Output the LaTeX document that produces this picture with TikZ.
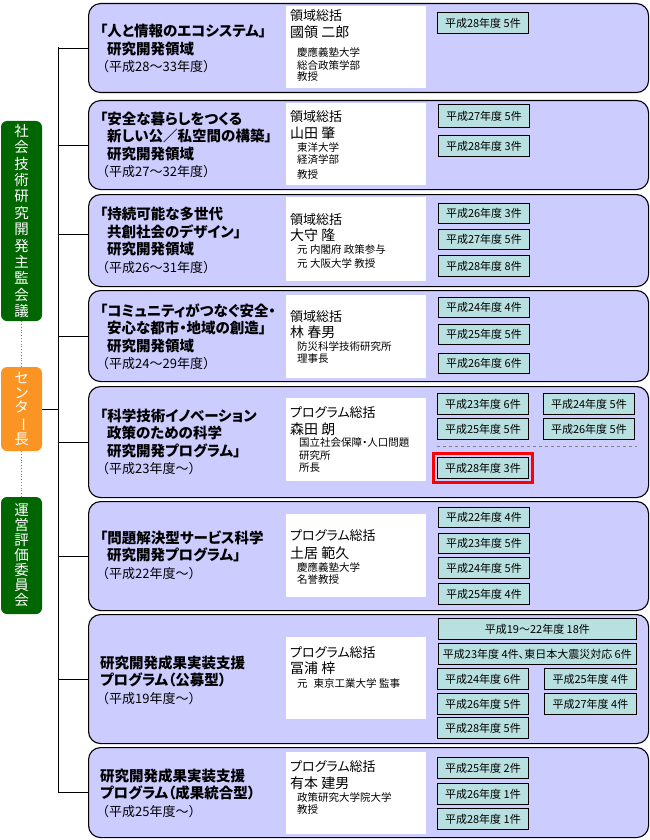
\documentclass[tikz,border=0pt]{standalone}
\usepackage{fontspec}
\setmainfont{Noto Sans CJK JP}[RawFeature=+palt]
\newfontfamily\jpfull{Noto Sans CJK JP}
\usepackage{graphicx}
\usetikzlibrary{fit}
\definecolor{lav}{RGB}{204,204,255}
\definecolor{tealbox}{RGB}{185,224,224}
\definecolor{dgreen}{RGB}{0,102,0}
\definecolor{orng}{RGB}{250,148,35}
\begin{document}
\begin{tikzpicture}[x=1pt,y=-1pt,
  mainbox/.style={draw=black, line width=1.1pt, fill=lav, rounded corners=12pt, minimum width=560pt, anchor=north west, inner sep=0pt},
  wbox/.style={fill=white, draw=none, minimum width=140pt, anchor=north west, inner sep=0pt},
  cnt/.style={draw=black, line width=0.8pt, fill=tealbox, inner sep=0pt, minimum width=91pt, minimum height=21pt, anchor=north west, font=\fontsize{11}{11}\selectfont},
  ttl/.style={anchor=west, align=left, inner sep=0pt, font=\fontsize{14.5}{17.5}\selectfont\bfseries},
  hd/.style={anchor=west, inner sep=0pt, font=\fontsize{13}{13}\selectfont},
  nm/.style={anchor=west, inner sep=0pt, font=\fontsize{14}{14}\selectfont},
  sm/.style={anchor=west, inner sep=0pt, font=\fontsize{10.5}{11}\selectfont},
  side/.style={rounded corners=6pt, minimum width=41pt, inner sep=0pt, text=white, align=center},
  conn/.style={draw=black, line width=0.9pt},
  dotl/.style={draw=gray, line width=0.8pt, dotted}
]
\useasboundingbox (0,0) rectangle (650,840);
\newcommand\yr[1]{{\hspace*{-4pt}\jpfull\fontsize{13}{17.5}\selectfont\mdseries #1}}
\newcommand\ind{\hspace*{7pt}}

% left column
\node[side, fill=dgreen, minimum height=200pt, font=\fontsize{14.5}{16.4}\selectfont] (g1) at (21.5,221)
  {社\\会\\技\\術\\研\\究\\開\\発\\主\\監\\会\\議};
\node[side, fill=orng, minimum height=84pt, font=\fontsize{14.5}{14.5}\selectfont] (ctr) at (21.5,409)
  {セ\\ン\\タ\\\rotatebox[origin=c]{-90}{ー}\\長};
\node[side, fill=dgreen, minimum height=117pt, font=\fontsize{14.5}{15}\selectfont] (g2) at (21.5,555.5)
  {運\\営\\評\\価\\委\\員\\会};
\draw[dotl] (g1.south) -- (ctr.north);
\draw[dotl] (ctr.south) -- (g2.north);

% main boxes
\node[mainbox, minimum height=89pt] (r1) at (88,3) {};
\node[mainbox, minimum height=89pt] (r2) at (88,100) {};
\node[mainbox, minimum height=92pt] (r3) at (88,194) {};
\node[mainbox, minimum height=91pt] (r4) at (88,290) {};
\node[mainbox, minimum height=111pt] (r5) at (88,386) {};
\node[mainbox, minimum height=109pt] (r6) at (88,501) {};
\node[mainbox, minimum height=129pt] (r7) at (88,614) {};
\node[mainbox, minimum height=90pt] (r8) at (88,747) {};

% trunk and connectors
\coordinate (ttop) at (58,47.5);
\coordinate (tbot) at (58,792);
\coordinate (r3in) at (88,234);
\draw[conn] (ttop) -- (tbot);
\foreach \r in {r1,r2,r4,r5,r6,r7,r8}
  \draw[conn] (\r.west -| ttop) -- (\r.west);
\draw[conn] (r3in -| ttop) -- (r3in);
\draw[conn] (ctr.east) -- (ctr.east -| ttop);

% titles
\node[ttl] (t1) at (100,48.5) {「人と情報のエコシステム」\\\ind 研究開発領域\\\yr{（平成28～33年度）}};
\node[ttl] (t2) at (100,145) {「安全な暮らしをつくる\\\ind 新しい公／私空間の構築」\\\ind 研究開発領域\\\yr{（平成27～32年度）}};
\node[ttl] (t3) at (100,240.5) {「持続可能な多世代\\\ind 共創社会のデザイン」\\\ind 研究開発領域\\\yr{（平成26～31年度）}};
\node[ttl] (t4) at (100,337) {「コミュニティがつなぐ安全・\\\ind 安心な都市・地域の創造」\\\ind 研究開発領域\\\yr{（平成24～29年度）}};
\node[ttl] (t5) at (100,442) {「科学技術イノベーション\\\ind 政策のための科学\\\ind 研究開発プログラム」\\\yr{（平成23年度～）}};
\node[ttl] (t6) at (100,555) {「問題解決型サービス科学\\\ind 研究開発プログラム」\\\yr{（平成22年度～）}};
\node[ttl] (t7) at (100,680) {研究開発成果実装支援\\プログラム（公募型）\\\yr{（平成19年度～）}};
\node[ttl] (t8) at (100,793) {研究開発成果実装支援\\プログラム（成果統合型）\\\yr{（平成25年度～）}};

% white boxes
\node[wbox, minimum height=82pt] (w1) at (286,6) {};
\node[wbox, minimum height=82pt] (w2) at (286,103) {};
\node[wbox, minimum height=84pt] (w3) at (286,197) {};
\node[wbox, minimum height=83pt] (w4) at (286,295) {};
\node[wbox, minimum height=83pt] (w5) at (286,398) {};
\node[wbox, minimum height=83pt] (w6) at (286,514) {};
\node[wbox, minimum height=82pt] (w7) at (286,637) {};
\node[wbox, minimum height=82pt] (w8) at (286,752) {};

% person texts
\node[hd] (p1a) at (290,16) {領域総括};
\node[nm] (p1b) at (290,32) {國領 二郎};
\node[sm] (p1c) at (297,52) {慶應義塾大学};
\node[sm] (p1d) at (297,65) {総合政策学部};
\node[sm] (p1e) at (297,77) {教授};

\node[hd] (p2a) at (290,117) {領域総括};
\node[nm] (p2b) at (290,133) {山田 肇};
\node[sm] (p2c) at (297,147) {東洋大学};
\node[sm] (p2d) at (297,160) {経済学部};
\node[sm] (p2e) at (297,175) {教授};

\node[hd] (p3a) at (290,220) {領域総括};
\node[nm] (p3b) at (290,235) {大守 隆};
\node[sm] (p3c) at (297,250) {元 内閣府 政策参与};
\node[sm] (p3d) at (297,263) {元 大阪大学 教授};

\node[hd] (p4a) at (290,317) {領域総括};
\node[nm] (p4b) at (290,332) {林 春男};
\node[sm] (p4c) at (297,347) {防災科学技術研究所};
\node[sm] (p4d) at (297,359) {理事長};

\node[hd] (p5a) at (290,413) {プログラム総括};
\node[nm] (p5b) at (290,429) {森田 朗};
\node[sm] (p5c) at (299,443) {国立社会保障・人口問題};
\node[sm] (p5d) at (299,456) {研究所};
\node[sm] (p5e) at (299,468) {所長};

\node[hd] (p6a) at (290,536) {プログラム総括};
\node[nm] (p6b) at (290,553) {土居 範久};
\node[sm] (p6c) at (297,567) {慶應義塾大学};
\node[sm] (p6d) at (297,580) {名誉教授};

\node[hd] (p7a) at (290,653) {プログラム総括};
\node[nm] (p7b) at (290,668) {冨浦 梓};
\node[sm] (p7c) at (297,683) {元\hspace{6pt}東京工業大学 監事};

\node[hd] (p8a) at (290,767) {プログラム総括};
\node[nm] (p8b) at (290,783) {有本 建男};
\node[sm] (p8c) at (297,797) {政策研究大学院大学};
\node[sm] (p8d) at (297,810) {教授};

% count boxes
\node[cnt] (c1a) at (437,12) {平成28年度 5件};

\node[cnt, minimum height=23pt] (c2a) at (438,104) {平成27年度 5件};
\node[cnt] (c2b) at (438,135) {平成28年度 3件};

\node[cnt, minimum height=20pt] (c3a) at (438,203) {平成26年度 3件};
\node[cnt, minimum height=20pt] (c3b) at (438,229) {平成27年度 5件};
\node[cnt] (c3c) at (438,255) {平成28年度 8件};

\node[cnt, minimum height=20pt] (c4a) at (438,297) {平成24年度 4件};
\node[cnt, minimum height=20pt] (c4b) at (438,324) {平成25年度 5件};
\node[cnt, minimum height=20pt] (c4c) at (438,353) {平成26年度 6件};

\node[cnt] (c5a) at (437,393) {平成23年度 6件};
\node[cnt] (c5b) at (543,393) {平成24年度 5件};
\node[cnt] (c5c) at (437,418) {平成25年度 5件};
\node[cnt] (c5d) at (543,418) {平成26年度 5件};
\coordinate (dl) at (437,446);
\coordinate (dr) at (637,446);
\draw[gray, line width=0.8pt, dashed] (dl) -- (dr);
\node[cnt] (c5e) at (437,457) {平成28年度 3件};
\node[draw=red, line width=2.5pt, inner sep=3.5pt, fit=(c5e)] (hl) {};

\node[cnt, minimum height=20pt] (c6a) at (438,507) {平成22年度 4件};
\node[cnt, minimum height=20pt] (c6b) at (438,533) {平成23年度 5件};
\node[cnt] (c6c) at (438,557) {平成24年度 5件};
\node[cnt] (c6d) at (438,583) {平成25年度 4件};

\node[cnt, minimum width=198pt] (c7a) at (438,618) {平成19～22年度 18件};
\node[cnt, minimum width=198pt] (c7b) at (438,643) {平成23年度 4件、東日本大震災対応 6件};
\node[cnt] (c7c) at (437,668) {平成24年度 6件};
\node[cnt, minimum width=92pt] (c7d) at (544,668) {平成25年度 4件};
\node[cnt] (c7e) at (437,693) {平成26年度 5件};
\node[cnt, minimum width=92pt] (c7f) at (544,693) {平成27年度 4件};
\node[cnt] (c7g) at (437,717) {平成28年度 5件};

\node[cnt] (c8a) at (437,757) {平成25年度 2件};
\node[cnt] (c8b) at (437,783) {平成26年度 1件};
\node[cnt] (c8c) at (437,808) {平成28年度 1件};
\end{tikzpicture}
\end{document}
